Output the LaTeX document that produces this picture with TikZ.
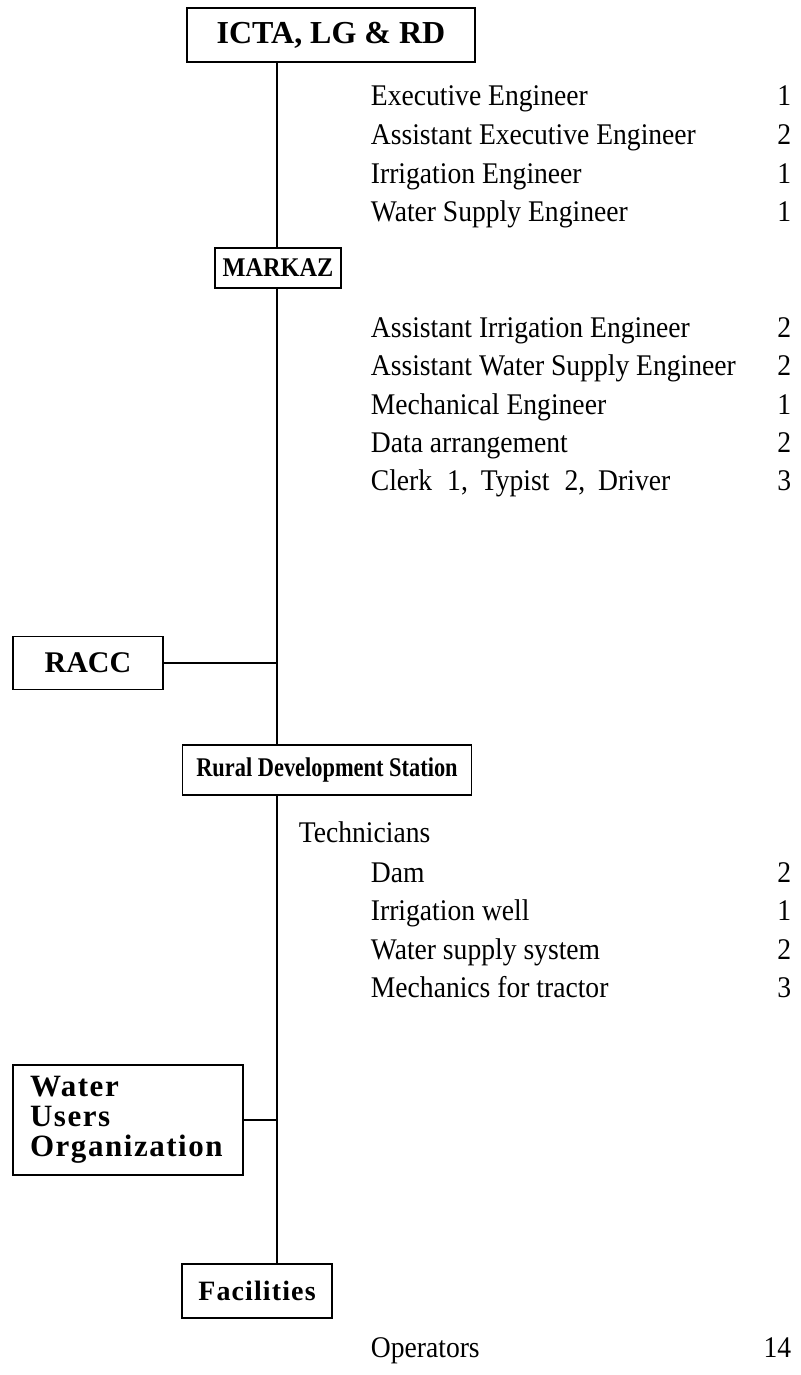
\documentclass[tikz,border=0pt]{standalone}
\usepackage{fontspec}
\setmainfont{Liberation Serif}
\newfontfamily\listfont{Liberation Serif}[FakeStretch=0.92]
\newfontfamily\narrowfont{Liberation Serif}[FakeStretch=0.83]
\newfontfamily\capsfont{Liberation Serif}[FakeStretch=0.9]
\newfontfamily\spacedfont{Liberation Serif}[LetterSpace=5]
\newfontfamily\trackfont{Liberation Serif}[LetterSpace=4]
\usetikzlibrary{positioning}

\begin{document}
\begin{tikzpicture}[x=1pt, y=-1pt, line width=1.8pt,
    unitbox/.style={draw, line width=1.6pt, inner sep=0pt, align=center,
                    font=\fontsize{#1}{#1}\selectfont\bfseries},
    unitbox/.default=28,
    post/.style={anchor=base west, inner sep=0pt, font=\fontsize{30}{34}\listfont},
    count/.style={anchor=base east, inner sep=0pt, font=\fontsize{30}{34}\listfont}]
  \useasboundingbox (0,0) rectangle (800,1375);
  \coordinate (trunk) at (277,0);

  % boxes on the line
  \node (icta) [unitbox=32, minimum width=288pt, minimum height=54pt] at (331,35)
    {ICTA, LG \& RD};
  \node (markaz) [unitbox, font=\fontsize{27}{27}\capsfont\bfseries,
                  minimum width=126pt, minimum height=40pt] at (278,268)
    {MARKAZ};
  \node (racc) [unitbox=30, minimum width=150pt, minimum height=53pt] at (88,663)
    {RACC};
  \node (rds) [unitbox, font=\fontsize{27}{27}\narrowfont\bfseries,
               minimum width=289pt, minimum height=50pt] at (327,770)
    {Rural Development Station};
  \node (wuo) [unitbox, font=\fontsize{31}{30}\spacedfont\bfseries,
               minimum width=230pt, minimum height=110pt, align=left,
               text width=196pt] at (128,1120)
    {Water\\Users\\Organization};
  \node (fac) [unitbox, font=\fontsize{28}{28}\trackfont\bfseries,
               minimum width=150pt, minimum height=54pt] at (257,1291)
    {Facilities};

  % staff of ICTA
  \node (ee)   [post] at (370,106) {Executive Engineer};
  \node (aee)  [post] at (370,145) {Assistant Executive Engineer};
  \node (ie)   [post] at (370,183) {Irrigation Engineer};
  \node (wse)  [post] at (370,221) {Water Supply Engineer};
  \node (nee)  [count] at (792,106) {1};
  \node (naee) [count] at (792,145) {2};
  \node (nie)  [count] at (792,183) {1};
  \node (nwse) [count] at (792,221) {1};

  % staff of markaz
  \node (aie)   [post] at (370,337) {Assistant Irrigation Engineer};
  \node (awse)  [post] at (370,375) {Assistant Water Supply Engineer};
  \node (me)    [post] at (370,414) {Mechanical Engineer};
  \node (data)  [post] at (370,452) {Data arrangement};
  \node (clerk) [post] at (370,490)
    {Clerk\hspace{15pt}1,\hspace{13pt}Typist\hspace{15pt}2,\hspace{13pt}Driver};
  \node (naie)  [count] at (792,337) {2};
  \node (nawse) [count] at (792,375) {2};
  \node (nme)   [count] at (792,414) {1};
  \node (ndata) [count] at (792,452) {2};
  \node (ndrv)  [count] at (792,490) {3};

  % technicians of the station
  \node (tech)  [post] at (298,842) {Technicians};
  \node (dam)   [post] at (370,882) {Dam};
  \node (well)  [post] at (370,920) {Irrigation well};
  \node (wss)   [post] at (370,959) {Water supply system};
  \node (mech)  [post] at (370,997) {Mechanics for tractor};
  \node (ndam)  [count] at (792,882) {2};
  \node (nwell) [count] at (792,920) {1};
  \node (nwss)  [count] at (792,959) {2};
  \node (nmech) [count] at (792,997) {3};

  % facilities
  \node (oper)  [post] at (370,1357) {Operators};
  \node (noper) [count] at (792,1357) {14};

  % the trunk line and side links
  \draw (icta.south -| trunk) -- (markaz.north -| trunk);
  \draw (markaz.south -| trunk) -- (rds.north -| trunk);
  \draw (rds.south -| trunk) -- (fac.north -| trunk);
  \draw (racc.east) -- (racc.east -| trunk);
  \draw (wuo.east) -- (wuo.east -| trunk);
\end{tikzpicture}
\end{document}
